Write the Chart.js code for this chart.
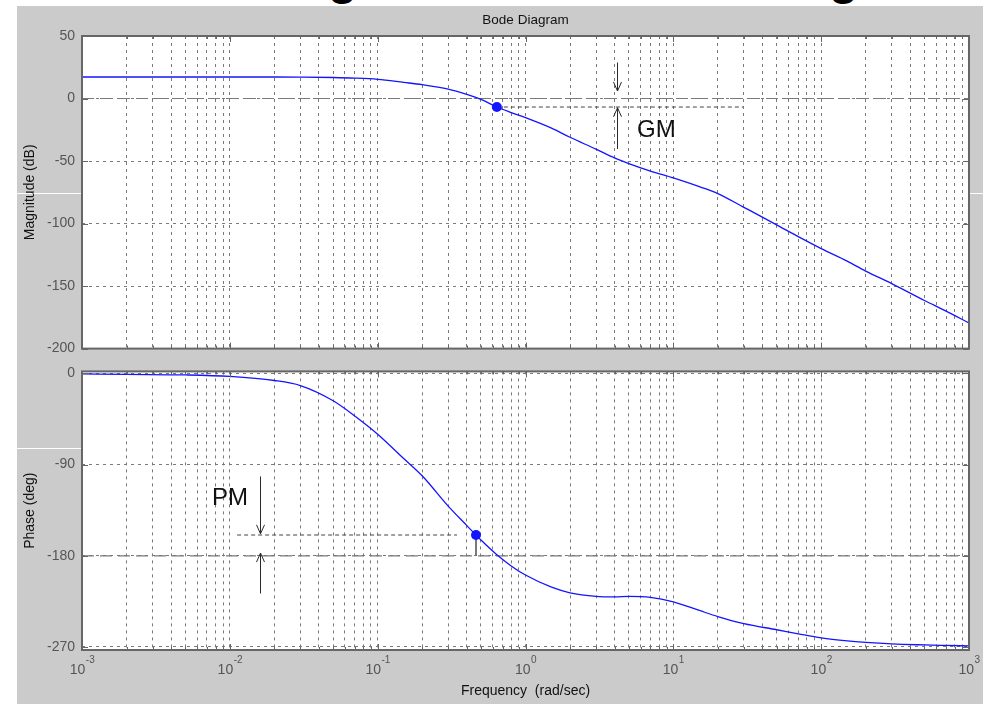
<!DOCTYPE html>
<html>
<head>
<meta charset="utf-8">
<title>Bode Diagram</title>
<script src="https://cdn.jsdelivr.net/npm/chart.js@4/dist/chart.umd.min.js"></script>
<style>
  html, body { margin: 0; padding: 0; background: #fff; }
  #page { position: relative; width: 993px; height: 704px; overflow: hidden; background: #fff; }
  #heading { position: absolute; top: -46px; left: 0; width: 993px; height: 60px;
             font: bold 48px "Liberation Sans", Arial, sans-serif; line-height: 48px; color: #000; }
  #heading span { position: absolute; top: 0; }
  #panel { position: absolute; left: 17px; top: 6px; width: 966px; height: 698px; background: #cbcbcb; }
  .seam { position: absolute; height: 1px; background: #fff; }
  canvas { position: absolute; left: 0; }
</style>
</head>
<body>
<div id="page">
  <div id="heading"><span style="left:328px">g</span><span style="left:829px">g</span></div>
  <div id="panel"></div>
  <div class="seam" style="left:17px;top:193px;width:65px"></div>
  <div class="seam" style="left:969px;top:193px;width:14px"></div>
  <div class="seam" style="left:17px;top:448px;width:65px"></div>
  <canvas id="magChart" width="993" height="364" style="top:0"></canvas>
  <canvas id="phaseChart" width="993" height="348" style="top:356px"></canvas>
</div>
<script>
// Open-loop frequency response (rad/sec, dB, degrees)
const frequency = [0.001, 0.002, 0.005, 0.01, 0.02, 0.03, 0.05, 0.07, 0.1, 0.15, 0.2, 0.3, 0.4, 0.5, 0.64, 0.8,
                   1, 1.5, 2, 3, 4, 5, 7, 10, 15, 20, 30, 50, 70, 100, 150, 200, 300, 500, 700, 1000];
const magnitudeDb = [17.2, 17.2, 17.2, 17.2, 17.2, 17.1, 16.8, 16.3, 15.3, 12.9, 11.1, 7.5, 3.3, -0.7, -6.8, -11.2,
                     -15.3, -23.7, -31, -40.5, -47.5, -52, -58, -63.5, -70.5, -76, -87, -101, -110.5, -120, -130, -138, -148, -161.5, -170, -179.5];
const phaseDeg = [-0.5, -1, -1.5, -3, -7, -12, -27, -42, -60, -84, -101, -131, -150, -164.5, -179, -190,
                  -199, -211, -216.5, -220, -220.5, -220, -221, -225.5, -234, -240, -247, -253, -257, -261, -264, -265.5, -267, -268, -268.5, -269];

// Axis ticks
const magTicks = [-200, -150, -100, -50, 0, 50];
const phaseTicks = [-270, -180, -90, 0];
const decadeTicks = [0.001, 0.01, 0.1, 1, 10, 100, 1000];
const minorSteps = [2, 3, 4, 5, 6, 7, 8, 9];

// Gain margin: crossover marker and its level
const gmFreq = 0.64, gmLevel = -6.8, gmLineEnd = 29.6;
const gmArrowFreq = 4.16;
const gmArrows = [[28.8, 6.0], [-40.4, -7.4]];
const gmLabel = { f: 5.68, v: -25.5, text: 'GM' };

// Phase margin: crossover marker and its level
const pmFreq = 0.4626, pmLevel = -159.5, pmLineStart = 0.0112, pmLineEnd = 0.344;
const pmArrowFreq = 0.016;
const pmArrows = [[-101.7, -158.3], [-217.2, -177.3]];
const pmLabel = { f: 0.00757, v: -123.3, text: 'PM' };

const FONT = '"Liberation Sans", Arial, Helvetica, sans-serif';
const AXIS_GRAY = '#666666';
const GRID_GRAY = '#7a7a7a';
const CURVE_BLUE = '#1414ff';

Chart.defaults.font.family = FONT;

const gridFreqs = [];
decadeTicks.forEach((d, i) => {
  gridFreqs.push({ value: d, major: true });
  if (i < decadeTicks.length - 1) minorSteps.forEach(m => gridFreqs.push({ value: +(d * m).toPrecision(6), major: false }));
});

const points = (xs, ys) => xs.map((x, i) => ({ x, y: ys[i] }));

// White plot box, inside tick marks and frame like a classic axes box
const framePlugin = {
  id: 'frame',
  beforeDraw(chart) {
    const { ctx, chartArea: a } = chart;
    ctx.save();
    ctx.fillStyle = '#ffffff';
    ctx.fillRect(a.left, a.top, a.width, a.height);
    ctx.restore();
  },
  afterDraw(chart) {
    const { ctx, chartArea: a, scales: { x, y } } = chart;
    ctx.save();
    ctx.strokeStyle = AXIS_GRAY;
    ctx.lineWidth = 1;
    ctx.beginPath();
    x.ticks.forEach(t => {
      const px = Math.round(x.getPixelForValue(t.value)) + 0.5;
      const len = t.major ? 6 : 3;
      ctx.moveTo(px, a.bottom); ctx.lineTo(px, a.bottom - len);
      ctx.moveTo(px, a.top); ctx.lineTo(px, a.top + len);
    });
    y.ticks.forEach(t => {
      const py = Math.round(y.getPixelForValue(t.value)) + 0.5;
      ctx.moveTo(a.left, py); ctx.lineTo(a.left + 6, py);
      ctx.moveTo(a.right, py); ctx.lineTo(a.right - 6, py);
    });
    ctx.stroke();
    ctx.lineWidth = 2;
    ctx.strokeRect(a.left, a.top, a.width, a.height);
    ctx.restore();
  }
};

function drawArrow(ctx, px, y0, y1) {
  const dir = y1 > y0 ? 1 : -1;
  ctx.beginPath();
  ctx.moveTo(px, y0); ctx.lineTo(px, y1);
  ctx.moveTo(px - 4, y1 - dir * 9); ctx.lineTo(px, y1); ctx.lineTo(px + 4, y1 - dir * 9);
  ctx.stroke();
}

// Margin arrows and labels, placed in data coordinates
function marginPlugin(id, arrowFreq, arrows, label) {
  return {
    id,
    afterDatasetsDraw(chart) {
      const { ctx, scales: { x, y } } = chart;
      ctx.save();
      ctx.strokeStyle = '#2a2a2a';
      ctx.lineWidth = 1;
      const px = Math.round(x.getPixelForValue(arrowFreq)) + 0.5;
      arrows.forEach(([from, to]) => drawArrow(ctx, px, y.getPixelForValue(from), y.getPixelForValue(to)));
      ctx.fillStyle = '#111';
      ctx.font = '24px ' + FONT;
      ctx.textAlign = 'left';
      ctx.textBaseline = 'middle';
      ctx.fillText(label.text, x.getPixelForValue(label.f), y.getPixelForValue(label.v));
      ctx.restore();
    }
  };
}

const titlePlugin = {
  id: 'plotTitle',
  afterDraw(chart) {
    const { ctx, chartArea: a } = chart;
    ctx.save();
    ctx.fillStyle = '#111';
    ctx.font = '13.5px ' + FONT;
    ctx.textAlign = 'center';
    ctx.textBaseline = 'middle';
    ctx.fillText('Bode Diagram', (a.left + a.right) / 2, 20);
    ctx.restore();
  }
};

// Decade labels as 10 with a raised exponent
const decadeLabelPlugin = {
  id: 'decadeLabels',
  afterDraw(chart) {
    const { ctx, chartArea: a, scales: { x } } = chart;
    ctx.save();
    ctx.fillStyle = '#555';
    ctx.textBaseline = 'middle';
    ctx.textAlign = 'left';
    decadeTicks.forEach(v => {
      const px = x.getPixelForValue(v);
      const exp = String(Math.round(Math.log10(v)));
      ctx.font = '14px ' + FONT;
      const wBase = ctx.measureText('10').width;
      ctx.font = '10px ' + FONT;
      const wExp = ctx.measureText(exp).width;
      const left = px - (wBase + wExp) / 2;
      ctx.font = '14px ' + FONT;
      ctx.fillText('10', left, a.bottom + 20);
      ctx.font = '10px ' + FONT;
      ctx.fillText(exp, left + wBase + 0.5, a.bottom + 10);
    });
    ctx.restore();
  }
};

function xScale(height, withTitle) {
  return {
    type: 'logarithmic',
    min: 0.001,
    max: 1000,
    afterBuildTicks: s => { s.ticks = gridFreqs.map(t => ({ value: t.value, major: t.major })); },
    afterFit: s => { s.height = height; },
    ticks: { display: false, autoSkip: false },
    grid: { color: GRID_GRAY, lineWidth: 1, drawTicks: false },
    border: { display: false, dash: [3, 4] },
    title: withTitle ? {
      display: true, text: 'Frequency  (rad/sec)', color: '#111',
      font: { size: 14 }, padding: { top: 0, bottom: 4 }
    } : { display: false }
  };
}

function yScale(min, max, ticks, label) {
  return {
    type: 'linear',
    min, max,
    afterBuildTicks: s => { s.ticks = ticks.map(v => ({ value: v })); },
    afterFit: s => { s.width = 82; },
    ticks: { color: '#555', font: { size: 14 }, padding: 7, autoSkip: false },
    grid: { color: GRID_GRAY, lineWidth: 1, drawTicks: false },
    border: { display: false, dash: [3, 4] },
    title: { display: true, text: label, color: '#111', font: { size: 14 }, padding: { top: 22, bottom: 0 } }
  };
}

const common = {
  responsive: false,
  animation: false,
  devicePixelRatio: 1,
  events: [],
  plugins: { legend: { display: false }, tooltip: { enabled: false } }
};

new Chart(document.getElementById('magChart'), {
  type: 'line',
  data: {
    datasets: [
      { data: [{ x: gmFreq, y: gmLevel }], showLine: false, pointRadius: 5, pointBackgroundColor: CURVE_BLUE, pointBorderColor: CURVE_BLUE, pointBorderWidth: 0 },
      { data: points(frequency, magnitudeDb), borderColor: CURVE_BLUE, borderWidth: 1.3, pointRadius: 0, cubicInterpolationMode: 'monotone' },
      { data: [{ x: gmFreq, y: gmLevel }, { x: gmLineEnd, y: gmLevel }], borderColor: '#444', borderWidth: 1, borderDash: [4, 3], pointRadius: 0 },
      { data: [{ x: 0.001, y: 0 }, { x: 1000, y: 0 }], borderColor: '#7a7a7a', borderWidth: 1.2, borderDash: [12, 6], pointRadius: 0 }
    ]
  },
  options: Object.assign({}, common, {
    layout: { padding: { top: 36, right: 24, bottom: 10, left: 0 } },
    scales: { x: xScale(0, false), y: yScale(-200, 50, magTicks, 'Magnitude (dB)') }
  }),
  plugins: [framePlugin, titlePlugin, marginPlugin('gmMarks', gmArrowFreq, gmArrows, gmLabel)]
});

new Chart(document.getElementById('phaseChart'), {
  type: 'line',
  data: {
    datasets: [
      { data: [{ x: pmFreq, y: pmLevel }], showLine: false, pointRadius: 5, pointBackgroundColor: CURVE_BLUE, pointBorderColor: CURVE_BLUE, pointBorderWidth: 0 },
      { data: points(frequency, phaseDeg), borderColor: CURVE_BLUE, borderWidth: 1.3, pointRadius: 0, cubicInterpolationMode: 'monotone' },
      { data: [{ x: pmLineStart, y: pmLevel }, { x: pmLineEnd, y: pmLevel }], borderColor: '#444', borderWidth: 1, borderDash: [4, 3], pointRadius: 0 },
      { data: [{ x: pmFreq, y: pmLevel }, { x: pmFreq, y: -180 }], borderColor: '#666', borderWidth: 1, pointRadius: 0 },
      { data: [{ x: 0.001, y: -180 }, { x: 1000, y: -180 }], borderColor: '#7a7a7a', borderWidth: 1.2, borderDash: [12, 6], pointRadius: 0 }
    ]
  },
  options: Object.assign({}, common, {
    layout: { padding: { top: 13, right: 24, bottom: 0, left: 0 } },
    scales: { x: xScale(54, true), y: yScale(-273, 2, phaseTicks, 'Phase (deg)') }
  }),
  plugins: [framePlugin, decadeLabelPlugin, marginPlugin('pmMarks', pmArrowFreq, pmArrows, pmLabel)]
});
</script>
</body>
</html>
